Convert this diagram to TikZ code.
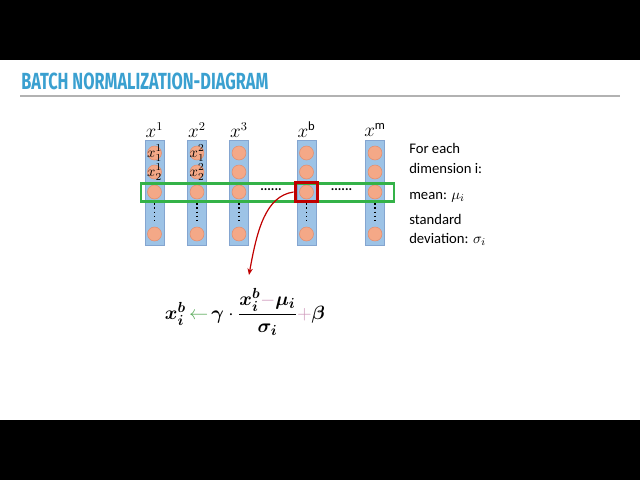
\documentclass[tikz,border=0pt]{standalone}
\usepackage{fontspec}
\usepackage{amsmath,bm}
\setmainfont{Carlito}
\newfontfamily\titlefont{Fira Sans}
\usetikzlibrary{positioning,arrows.meta}

\definecolor{barblue}{RGB}{157,195,230}
\definecolor{baredge}{RGB}{132,165,208}
\definecolor{dotfill}{RGB}{244,168,135}
\definecolor{dotedge}{RGB}{228,140,108}
\definecolor{rowgreen}{RGB}{52,178,72}
\definecolor{selred}{RGB}{192,0,0}
\definecolor{titleblue}{RGB}{58,160,208}
\definecolor{opgreen}{RGB}{90,170,90}
\definecolor{oppink}{RGB}{205,150,185}

\tikzset{
  bar/.style = {draw=baredge, fill=barblue, minimum width=14.25pt,
    minimum height=78.75pt, inner sep=0pt},
  unit/.style = {circle, draw=dotedge, fill=dotfill, minimum size=10.5pt,
    inner sep=0pt},
  unitlabel/.style = {inner sep=0pt, font=\fontsize{11}{13}\selectfont},
  collabel/.style = {font=\fontsize{13.5}{16}\selectfont, inner sep=0pt},
  vdots/.style = {dotted, line width=1.1pt, shorten >=3pt, shorten <=3pt},
  hdots/.style = {font=\bfseries, inner sep=0pt},
  sidetext/.style = {anchor=west, inner sep=0pt, font=\fontsize{11}{13}\selectfont},
}

\begin{document}
\begin{tikzpicture}[x=0.75pt, y=-0.75pt]
  \useasboundingbox (0,0) rectangle (640,480);
  \fill[black] (0,0) rectangle (640,60);
  \fill[black] (0,420) rectangle (640,480);

  % title
  \node[anchor=west, inner sep=0pt, text=titleblue] (title) at (21,81)
    {\titlefont\bfseries\fontsize{17.5}{20}\selectfont\scalebox{0.7}[1]{BATCH NORMALIZATION-DIAGRAM}};
  \coordinate (ruleL) at (20,96);
  \coordinate (ruleR) at (620,96);
  \draw[black!30, line width=0.8pt] (ruleL) -- (ruleR);

  % columns of the batch
  \foreach \n/\x/\lab in {1/154.5/$x^1$, 2/197/$x^2$, 3/239/$x^3$,
                          b/306.5/$x^{\mathrm{b}}$, m/375/$x^{\mathrm{m}}$} {
    \node[bar] (col\n) at (\x,192.5) {};
    \node[collabel] (lab\n) at (\x,130) {\lab};
    \node[unit] (u\n-1) at (\x,153) {};
    \node[unit] (u\n-2) at (\x,172) {};
    \node[unit] (u\n-3) at (\x,192) {};
    \node[unit] (u\n-4) at (\x,234) {};
    \draw[vdots] (u\n-3.south) -- (u\n-4.north);
  }
  \node[unitlabel] (v11) at (u1-1) {$x_1^1$};
  \node[unitlabel] (v12) at (u1-2) {$x_2^1$};
  \node[unitlabel] (v21) at (u2-1) {$x_1^2$};
  \node[unitlabel] (v22) at (u2-2) {$x_2^2$};

  \node[hdots] (gap1) at (271,190) {......};
  \node[hdots] (gap2) at (341.5,190) {......};

  % row i over the batch and the selected unit
  \node[draw=rowgreen, line width=1.6pt, minimum width=190pt, minimum height=13.5pt,
    inner sep=0pt] (row) at (267.5,192.5) {};
  \node[draw=selred, line width=2.4pt, minimum width=17pt, minimum height=14.5pt,
    inner sep=0pt] (sel) at (306.5,192) {};

  % normalising formula
  \node[inner sep=0pt] (formula) at (245,312)
    {\fontsize{15}{18}\selectfont$\bm{x_i^b}\,\textcolor{opgreen}{\leftarrow}\,\bm{\gamma}\cdot
      \dfrac{\bm{x_i^b}\textcolor{oppink}{-}\bm{\mu_i}}{\bm{\sigma_i}}
      \textcolor{oppink}{+}\bm{\beta}$};
  \coordinate (tip) at (249,275);
  \draw[selred, line width=0.9pt, -{Stealth[length=5pt,width=4pt]}]
    (sel.west) .. controls +(-28,4) and +(8,-45) .. (tip);

  % side notes
  \node[sidetext] (n1) at (409,148) {For each};
  \node[sidetext] (n2) at (409,168) {dimension i:};
  \node[sidetext] (n3) at (409,197) {mean: $\mu_i$};
  \node[sidetext] (n4) at (409,219) {standard};
  \node[sidetext] (n5) at (409,239) {deviation: $\sigma_i$};
\end{tikzpicture}
\end{document}
